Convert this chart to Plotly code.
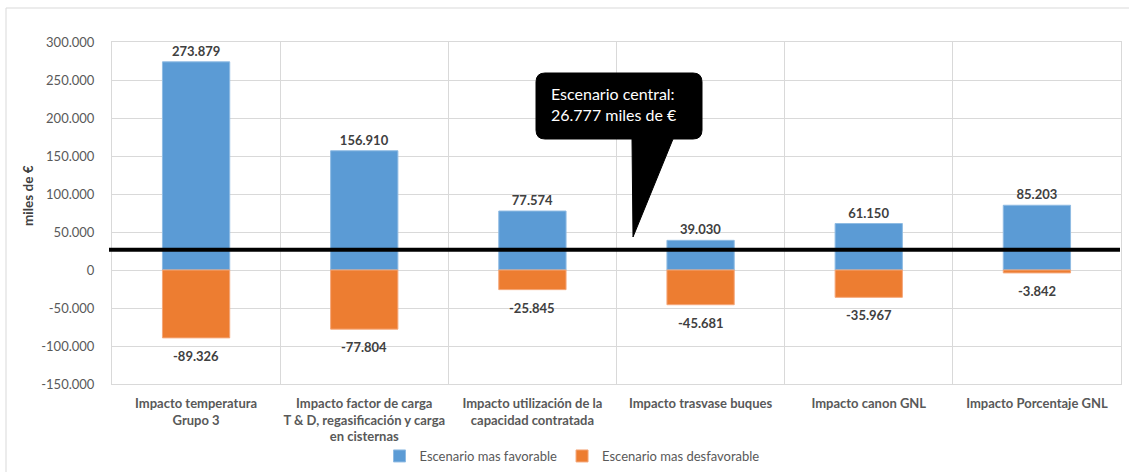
import plotly.graph_objects as go

# Categories and scenario results (miles de €)
categorias = [
    "Impacto temperatura<br>Grupo 3",
    "Impacto factor de carga<br>T & D, regasificación y carga<br>en cisternas",
    "Impacto utilización de la<br>capacidad contratada",
    "Impacto trasvase buques",
    "Impacto canon GNL",
    "Impacto Porcentaje GNL",
]
favorable = [273879, 156910, 77574, 39030, 61150, 85203]
desfavorable = [-89326, -77804, -25845, -45681, -35967, -3842]
escenario_central = 26777

tick_vals = [-150000, -100000, -50000, 0, 50000, 100000, 150000, 200000, 250000, 300000]
tick_text = ["-150.000", "-100.000", "-50.000", "0", "50.000", "100.000",
             "150.000", "200.000", "250.000", "300.000"]

FONT = "Lato, 'Open Sans', sans-serif"
W, H = 1129, 472
ML, MR, MT, MB = 112, 8, 42, 88
PW, PH = W - ML - MR, H - MT - MB
LABEL_FONT = dict(family=FONT, size=13, color="#404040", weight="bold")


def fmt(v):
    return f"{v:,}".replace(",", ".")


def px(x):
    return (x - ML) / PW


def py(y):
    return (H - MB - y) / PH


fig = go.Figure()
fig.add_bar(
    x=categorias, y=favorable, name="Escenario mas favorable",
    marker=dict(color="#5B9BD5", line=dict(color="#8fbbe3", width=1)),
    width=0.4, text=[fmt(v) for v in favorable], textposition="outside",
    textfont=LABEL_FONT, cliponaxis=False,
)
fig.add_bar(
    x=categorias, y=desfavorable, name="Escenario mas desfavorable",
    marker=dict(color="#ED7D31", line=dict(color="#f4a77a", width=1)),
    width=0.4,
)
# Value labels below the negative bars
for cat, v in zip(categorias, desfavorable):
    fig.add_annotation(x=cat, y=v, text=fmt(v), showarrow=False,
                       yanchor="top", yshift=-8, font=LABEL_FONT)

# Central scenario reference line
fig.add_shape(type="line", xref="paper", yref="y", x0=px(109), x1=px(1120),
              y0=escenario_central, y1=escenario_central,
              line=dict(color="black", width=4))

# Callout bubble
x0, x1, y0, y1, r = 536, 702, 73, 139, 9
tb0, tb1, tx, ty = 632, 673, 633, 237
path = (
    f"M{px(x0 + r)},{py(y0)} L{px(x1 - r)},{py(y0)} Q{px(x1)},{py(y0)} {px(x1)},{py(y0 + r)} "
    f"L{px(x1)},{py(y1 - r)} Q{px(x1)},{py(y1)} {px(x1 - r)},{py(y1)} "
    f"L{px(tb1)},{py(y1)} L{px(tx)},{py(ty)} L{px(tb0)},{py(y1)} "
    f"L{px(x0 + r)},{py(y1)} Q{px(x0)},{py(y1)} {px(x0)},{py(y1 - r)} "
    f"L{px(x0)},{py(y0 + r)} Q{px(x0)},{py(y0)} {px(x0 + r)},{py(y0)} Z"
)
fig.add_shape(type="path", xref="paper", yref="paper", path=path,
              fillcolor="black", line=dict(color="black", width=1))
fig.add_annotation(
    xref="paper", yref="paper", x=px(549), y=py(82), xanchor="left", yanchor="top",
    text=f"Escenario central:<br>{fmt(escenario_central)} miles de €",
    showarrow=False, align="left",
    font=dict(family=FONT, size=16, color="white"),
)

# Y axis title
fig.add_annotation(
    xref="paper", yref="paper", x=px(28), y=py(196), xanchor="center", yanchor="middle",
    text="miles de €", textangle=-90, showarrow=False,
    font=dict(family=FONT, size=13.5, color="#404040", weight="bold"),
)

# Outer chart frame (top and left edges visible)
fig.add_shape(type="line", xref="paper", yref="paper", x0=px(6), x1=px(1135),
              y0=py(8), y1=py(8), line=dict(color="#d9d9d9", width=1))
fig.add_shape(type="line", xref="paper", yref="paper", x0=px(6), x1=px(6),
              y0=py(8), y1=py(480), line=dict(color="#d9d9d9", width=1))

fig.update_layout(
    width=W, height=H,
    margin=dict(l=ML, r=MR, t=MT, b=MB, autoexpand=False),
    barmode="overlay",
    plot_bgcolor="white", paper_bgcolor="white",
    font=dict(family=FONT, color="#595959"),
    showlegend=True,
    legend=dict(orientation="h", x=px(572), xanchor="center", y=py(456), yanchor="middle",
                font=dict(family=FONT, size=13, color="#595959"),
                bgcolor="rgba(0,0,0,0)", itemwidth=30, traceorder="normal"),
)
fig.update_xaxes(
    tickson="boundaries", showgrid=True, gridcolor="#d9d9d9", gridwidth=1,
    showline=True, linecolor="#d9d9d9", mirror=True, ticks="",
    tickangle=0, automargin=False,
    tickfont=dict(family=FONT, size=13, color="#595959", weight="bold"),
    ticklabelstandoff=7,
)
fig.update_yaxes(
    range=[-150000, 300000], tickvals=tick_vals, ticktext=tick_text,
    showgrid=True, gridcolor="#d9d9d9", gridwidth=1,
    zeroline=True, zerolinecolor="#d9d9d9", zerolinewidth=1,
    showline=True, linecolor="#d9d9d9", mirror=True, ticks="",
    automargin=False,
    tickfont=dict(family=FONT, size=13, color="#595959"),
    ticklabelstandoff=14,
)

fig.write_html("out.html")
